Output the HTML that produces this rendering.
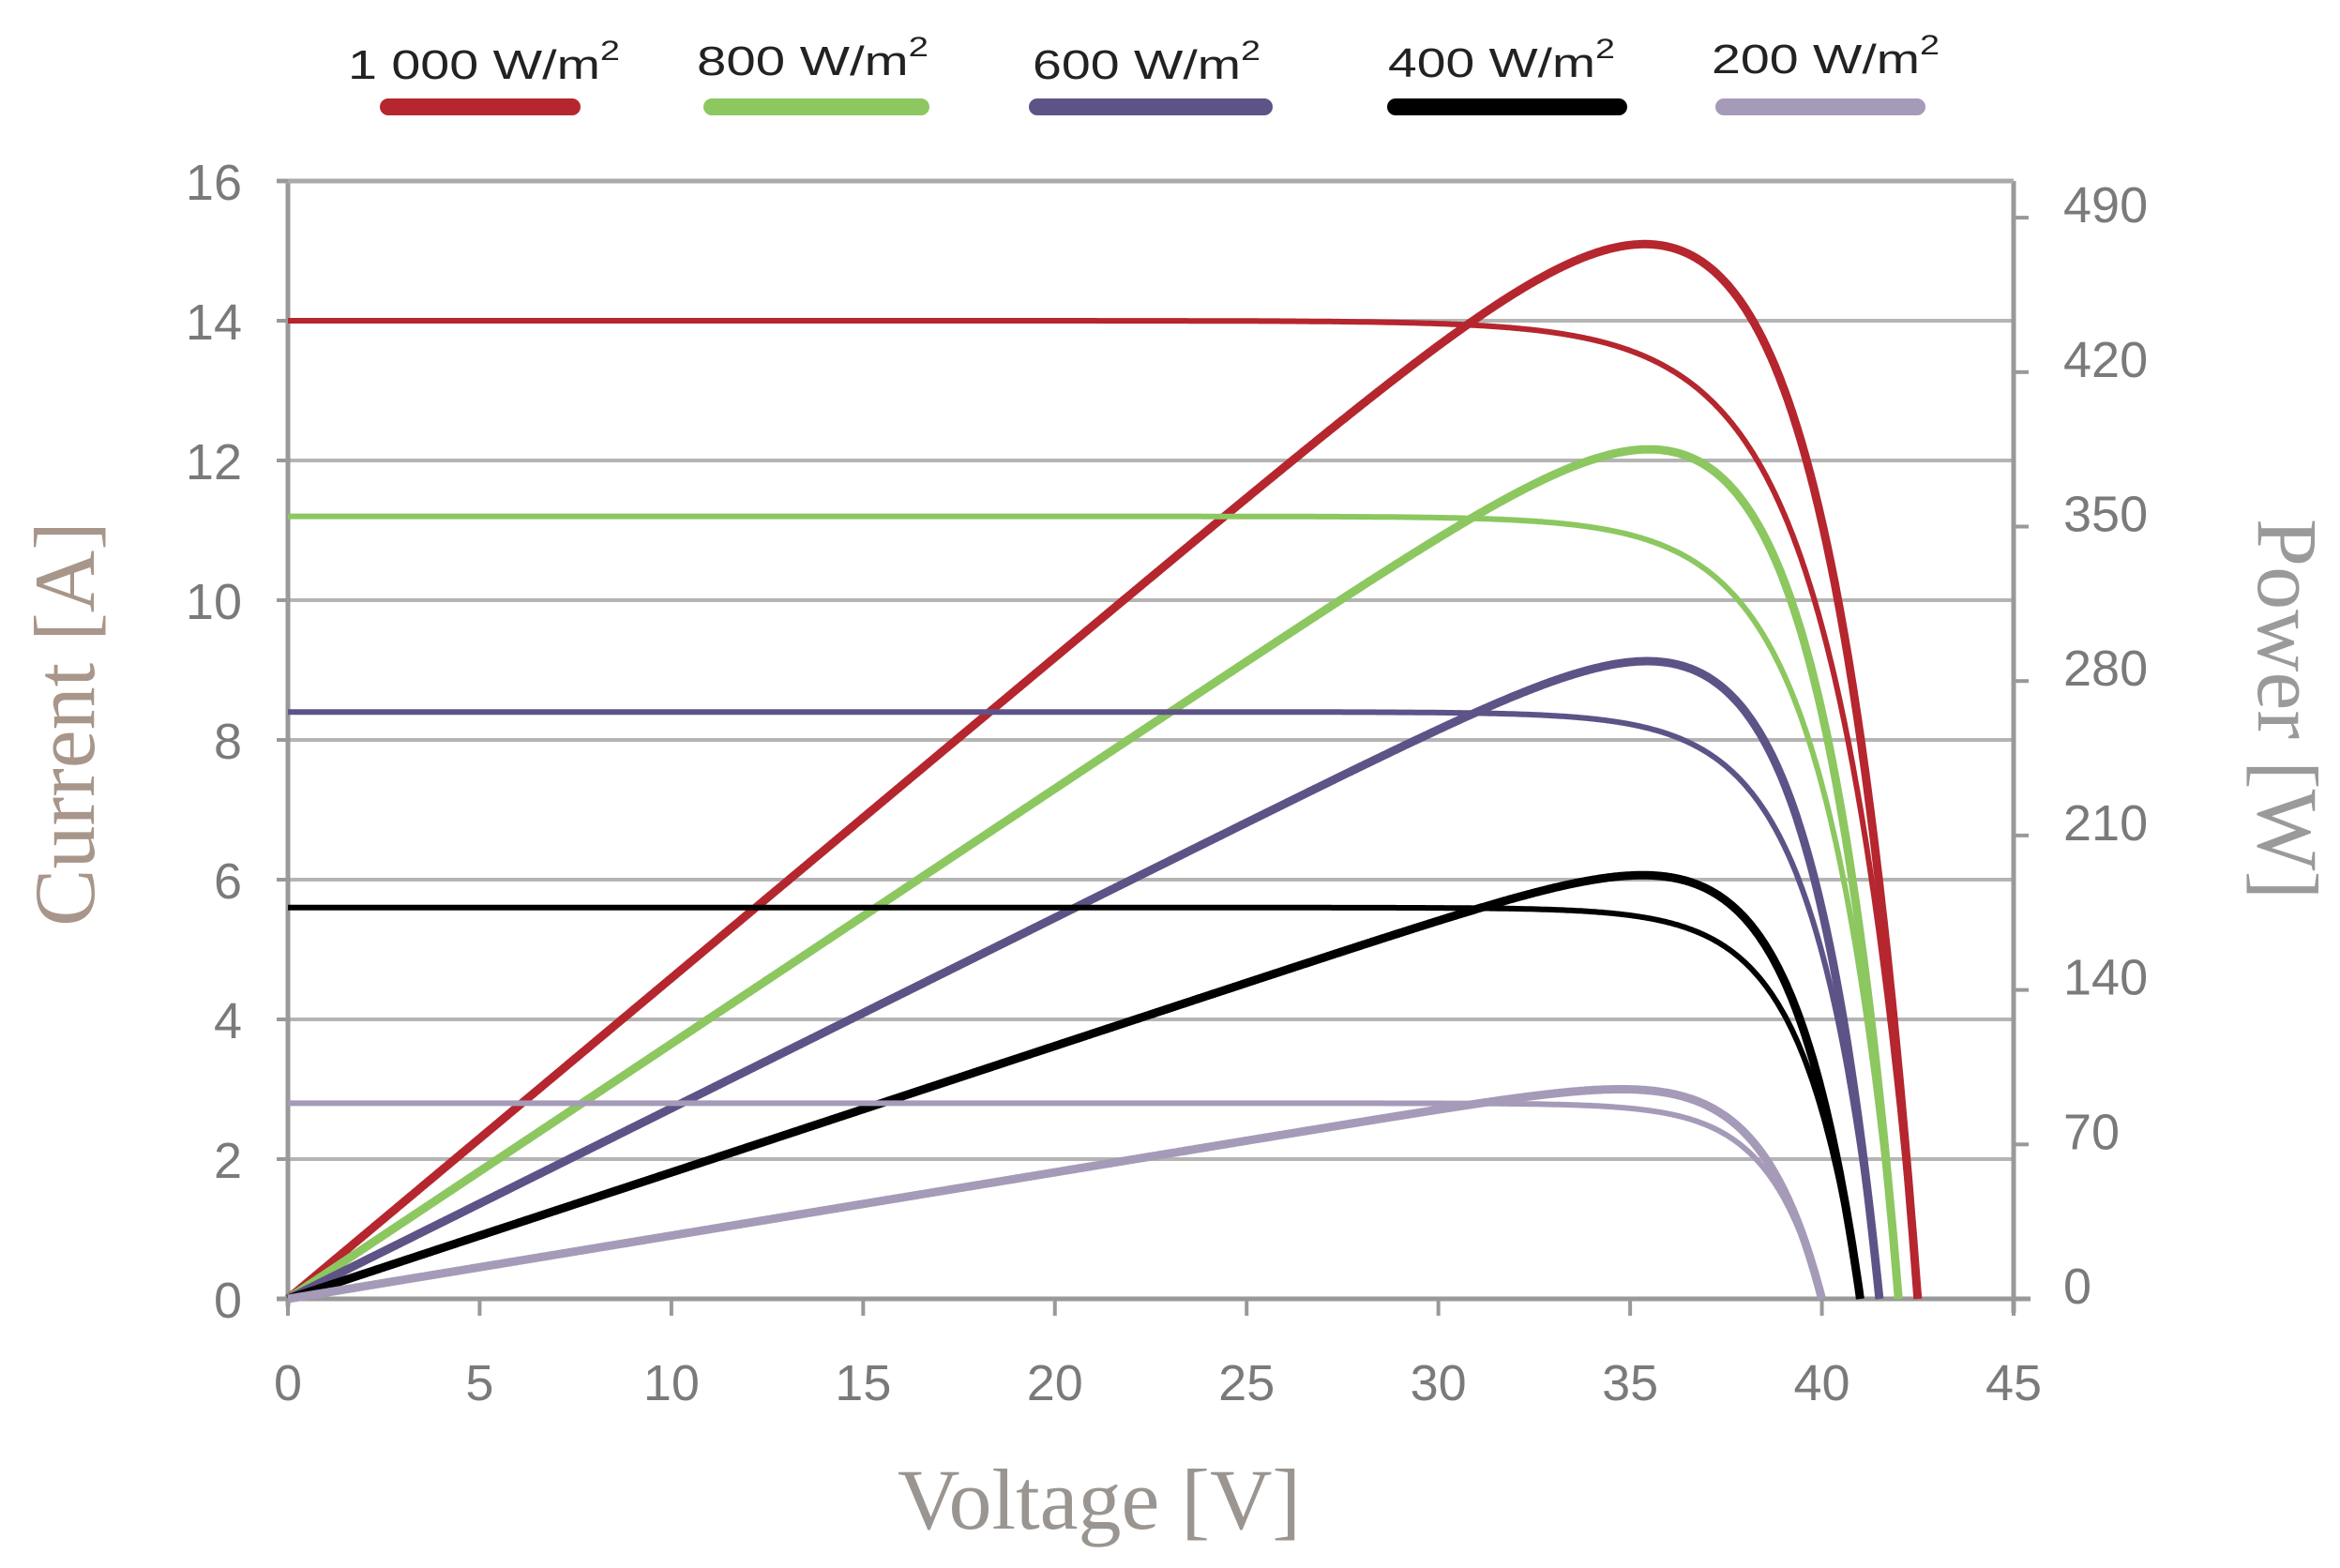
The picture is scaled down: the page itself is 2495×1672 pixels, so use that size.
<!DOCTYPE html>
<html><head><meta charset="utf-8"><style>
html,body{margin:0;padding:0;background:#fff;}
svg{display:block;}
</style></head><body>
<svg id="s" width="2495" height="1672" viewBox="0 0 2495 1672" xmlns="http://www.w3.org/2000/svg">
<g id="grid"></g>
<g id="curves"></g>
<g font-family="Liberation Sans, sans-serif" fill="#222" font-size="44">
<text x="371" y="84" textLength="290" lengthAdjust="spacingAndGlyphs">1 000 W/m<tspan font-size="30" dy="-20">2</tspan></text>
<text x="743" y="80" textLength="247" lengthAdjust="spacingAndGlyphs">800 W/m<tspan font-size="30" dy="-20">2</tspan></text>
<text x="1101" y="84" textLength="243" lengthAdjust="spacingAndGlyphs">600 W/m<tspan font-size="30" dy="-20">2</tspan></text>
<text x="1480" y="82" textLength="242" lengthAdjust="spacingAndGlyphs">400 W/m<tspan font-size="30" dy="-20">2</tspan></text>
<text x="1825" y="78" textLength="243" lengthAdjust="spacingAndGlyphs">200 W/m<tspan font-size="30" dy="-20">2</tspan></text>
</g>
<g stroke-linecap="round" stroke-width="18">
<line x1="414" y1="114" x2="610" y2="114" stroke="#b5262e"/>
<line x1="759" y1="114" x2="982" y2="114" stroke="#8cc760"/>
<line x1="1106" y1="114" x2="1348" y2="114" stroke="#5e5387"/>
<line x1="1488" y1="114" x2="1726" y2="114" stroke="#000"/>
<line x1="1838" y1="114" x2="2044" y2="114" stroke="#a59bb8"/>
</g>
<g id="labels" font-family="Liberation Sans, sans-serif" font-size="54" fill="#7a7a7a"></g>
<text x="1172" y="1630" text-anchor="middle" font-family="Liberation Serif, serif" font-size="92" fill="#9a9590">Voltage [V]</text>
<text transform="translate(100,772) rotate(-90)" text-anchor="middle" font-family="Liberation Serif, serif" font-size="92" fill="#a8968a">Current [A]</text>
<text transform="translate(2408,756) rotate(90)" text-anchor="middle" font-family="Liberation Serif, serif" font-size="92" fill="#9a9a9a">Power [W]</text>
</svg>
<script>
var NS="http://www.w3.org/2000/svg";
function el(p,t,a,txt){var e=document.createElementNS(NS,t);for(var k in a)e.setAttribute(k,a[k]);if(txt!==undefined)e.textContent=txt;p.appendChild(e);return e;}
var X0=307,X1=2147,Y0=1385,Y16=193;
function X(v){return X0+v*(X1-X0)/45;}
function YI(i){return Y0-i*(Y0-Y16)/16;}
function YP(p){return Y0-p*164.7/70;}
var g=document.getElementById('grid'),L=document.getElementById('labels'),c=document.getElementById('curves');
for(var i=2;i<=16;i+=2){el(g,'line',{x1:X0,x2:X1,y1:YI(i),y2:YI(i),stroke:'#b4b4b4','stroke-width':4});}
el(g,'line',{x1:X0,x2:X0,y1:Y16,y2:Y0+8,stroke:'#999','stroke-width':5});
el(g,'line',{x1:X1,x2:X1,y1:Y16,y2:Y0+15,stroke:'#999','stroke-width':5});
el(g,'line',{x1:X0-12,x2:X1+18,y1:Y0,y2:Y0,stroke:'#999','stroke-width':5});
el(g,'line',{x1:X0-12,x2:X1,y1:Y16,y2:Y16,stroke:'#aaa','stroke-width':5});
for(var v=0;v<=45;v+=5){el(g,'line',{x1:X(v),x2:X(v),y1:Y0,y2:Y0+18,stroke:'#999','stroke-width':4});
 el(L,'text',{x:X(v),y:1493,'text-anchor':'middle'},v);}
for(var i=0;i<=16;i+=2){el(g,'line',{x1:X0-12,x2:X0,y1:YI(i),y2:YI(i),stroke:'#999','stroke-width':4});
 el(L,'text',{x:258,y:YI(i)+20,'text-anchor':'end'},i);}
for(var p=0;p<=490;p+=70){el(g,'line',{x1:X1,x2:X1+16,y1:YP(p),y2:YP(p),stroke:'#999','stroke-width':4});
 el(L,'text',{x:2200,y:YP(p)+5},p);}
var S=[
 {isc:14,voc:42.5,a:2.15,pk:478,col:'#b5262e'},
 {isc:11.2,voc:42,a:1.87,pk:385,col:'#8cc760'},
 {isc:8.4,voc:41.5,a:1.68,pk:289,col:'#5e5387'},
 {isc:5.6,voc:41,a:1.53,pk:192,col:'#000000'},
 {isc:2.8,voc:40,a:1.37,pk:95,col:'#a59bb8'}];
S.forEach(function(s){
 var pi='',pp='',N=1000,P=[],mx=0,ap=s.a*1.25;
 for(var k=0;k<=N;k++){var v=s.voc*k/N;
  var Ip=s.isc*(1-Math.exp((v-s.voc)/ap))/(1-Math.exp(-s.voc/ap));if(Ip<0)Ip=0;
  P.push(v*Ip);if(v*Ip>mx)mx=v*Ip;}
 var f=s.pk/mx;
 for(var k=0;k<=N;k++){var v=s.voc*k/N;var I=s.isc*(1-Math.exp((v-s.voc)/s.a))/(1-Math.exp(-s.voc/s.a));
  if(I<0)I=0;pi+=(k?'L':'M')+X(v).toFixed(1)+' '+YI(I).toFixed(1);
  pp+=(k?'L':'M')+X(v).toFixed(1)+' '+YP(P[k]*f).toFixed(1);}
 el(c,'path',{d:pi,fill:'none',stroke:s.col,'stroke-width':6,'stroke-linejoin':'round'});
 el(c,'path',{d:pp,fill:'none',stroke:s.col,'stroke-width':9,'stroke-linejoin':'round'});
});
</script>
</body></html>
